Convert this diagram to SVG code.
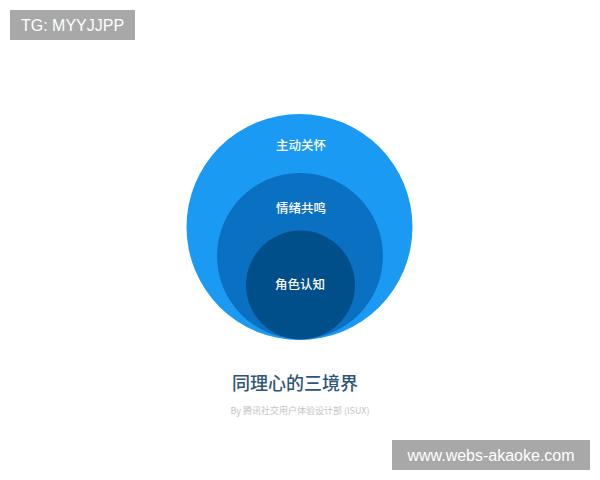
<svg xmlns="http://www.w3.org/2000/svg" width="600" height="480" viewBox="0 0 600 480">
<style>
.lbl{font-family:"Noto Sans CJK SC","Noto Sans",sans-serif;font-size:12.5px;font-weight:500;fill:#ffffff;text-anchor:middle}
.wm{font-family:"Liberation Sans",Arial,sans-serif;font-size:16px;fill:#ffffff;text-anchor:middle}
</style>
<rect width="600" height="480" fill="#ffffff"/>
<g id="outer">
<circle cx="299.5" cy="227" r="113" fill="#1a9af2"/>
<text class="lbl" x="301" y="150">主动关怀</text>
</g>
<g id="middle">
<circle cx="300" cy="256" r="83" fill="#0a70c2"/>
<text class="lbl" x="301" y="213">情绪共鸣</text>
</g>
<g id="inner">
<circle cx="300.5" cy="285" r="54.5" fill="#014f8a"/>
<text class="lbl" x="300" y="289">角色认知</text>
</g>
<g id="connectors"/>
<g id="title">
<text x="295" y="390" font-family="Noto Sans CJK SC,Noto Sans,sans-serif" font-size="18" font-weight="500" fill="#2f5577" text-anchor="middle">同理心的三境界</text>
<text x="300" y="414" font-family="Noto Sans CJK SC,Noto Sans,sans-serif" font-size="9" fill="#c4c4c4" text-anchor="middle">By 腾讯社交用户体验设计部 (ISUX)</text>
</g>
<g id="wm1">
<rect x="10" y="10" width="125" height="30" fill="#a8a8a8"/>
<text class="wm" x="72.5" y="31">TG: MYYJJPP</text>
</g>
<g id="wm2">
<rect x="392" y="440" width="198" height="30" fill="#a8a8a8"/>
<text class="wm" x="491" y="461">www.webs-akaoke.com</text>
</g>
</svg>
